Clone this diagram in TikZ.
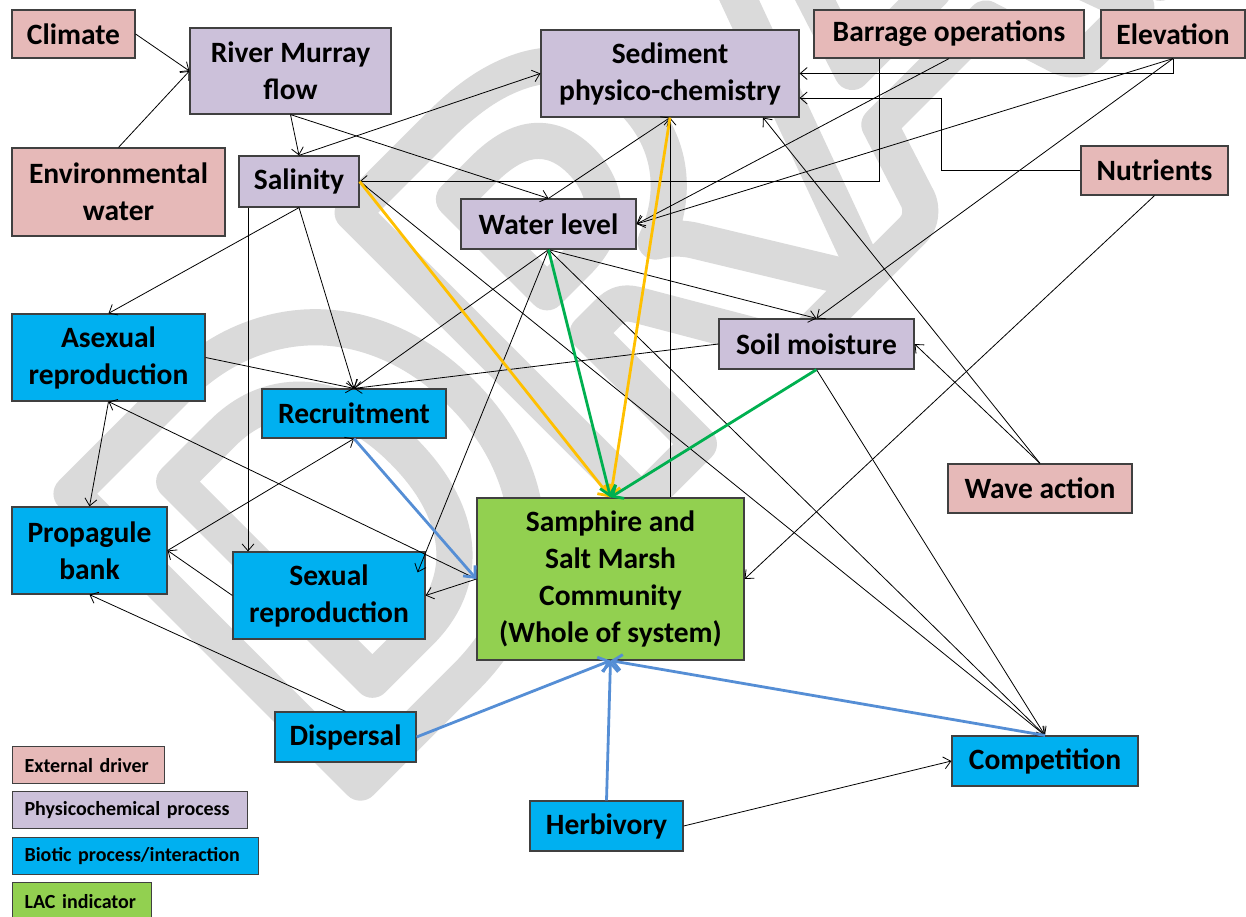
\documentclass[tikz,border=0pt]{standalone}
\usepackage{fontspec}
\setmainfont{Carlito}
\usetikzlibrary{arrows.meta,calc}
\definecolor{pinkc}{HTML}{E6B9B8}
\definecolor{lavc}{HTML}{CCC1DA}
\definecolor{bluec}{HTML}{00B0F0}
\definecolor{greenc}{HTML}{92D050}
\definecolor{yel}{HTML}{FFC000}
\definecolor{grn}{HTML}{00B050}
\definecolor{blu}{HTML}{558ED5}
\definecolor{bord}{HTML}{404040}
\definecolor{wm}{HTML}{DADADA}
\newcommand\bx[7]{\node[box, fill=#6, minimum width=#4pt-#2pt, minimum height=#5pt-#3pt] (#1) at ({(#2+#4)/2},{(#3+#5)/2}) {#7};}
\newcommand\lgbox[7]{\node[legbox, fill=#6, text width=#4pt-#2pt-24pt, minimum height=#5pt-#3pt, anchor=north west] (#1) at (#2,#3) {#7};}
\begin{document}
\begin{tikzpicture}[x=1pt,y=-1pt,
  box/.style={draw=bord, line width=1.2pt, inner sep=0pt, align=center,
    font=\fontsize{29.5}{37}\selectfont\bfseries},
  legbox/.style={draw=bord, line width=1.2pt, inner xsep=12pt, inner ysep=0pt, align=left,
    font=\fontsize{20}{24}\selectfont\bfseries},
  arr/.style={line width=0.8pt, -{Straight Barb[length=7pt,width=12pt,line width=0.8pt]}},
  carr/.style={line width=2.8pt, -{Straight Barb[length=9pt,width=16pt,line width=2.8pt]}},
  yarr/.style={carr, draw=yel},
  garr/.style={carr, draw=grn},
  barr/.style={carr, draw=blu}]
\useasboundingbox (0,0) rectangle (1246,917);
\fill[white] (0,0) rectangle (1246,917);
% watermark
\node[rotate=45, anchor=base west, text=wm, inner sep=0pt] (wmk) at (335,808)
  {\fontsize{630}{630}\selectfont\bfseries\special{pdf:literal direct 1 Tr 36 w 1 j 1 J}DRAFT\special{pdf:literal direct 0 Tr 1 w}};
% nodes
\bx{clim}{12}{10}{135}{58}{pinkc}{Climate}
\bx{rmf}{190}{28}{391}{114}{lavc}{River Murray\\flow}
\bx{env}{12}{148}{225}{236}{pinkc}{Environmental\\water}
\bx{sal}{239}{156}{359}{207}{lavc}{Salinity}
\bx{sed}{541}{30}{799}{117}{lavc}{Sediment\\physico-chemistry}
\bx{bar}{814}{10}{1084}{58}{pinkc}{Barrage operations}
\bx{elev}{1101}{10}{1245}{58}{pinkc}{Elevation}
\bx{wl}{461}{199}{636}{249}{lavc}{Water level}
\bx{nut}{1081}{146}{1228}{195}{pinkc}{Nutrients}
\bx{soil}{719}{319}{914}{369}{lavc}{Soil moisture}
\bx{asex}{12}{314}{205}{401}{bluec}{Asexual\\reproduction}
\bx{rec}{262}{389}{446}{438}{bluec}{Recruitment}
\bx{prop}{12}{507}{167}{594}{bluec}{Propagule\\bank}
\bx{sex}{233}{552}{425}{639}{bluec}{Sexual\\reproduction}
\bx{samp}{477}{498}{744}{660}{greenc}{Samphire and\\Salt Marsh\\Community\\(Whole of system)}
\bx{wave}{948}{464}{1132}{513}{pinkc}{Wave action}
\bx{disp}{275}{712}{416}{762}{bluec}{Dispersal}
\bx{herb}{530}{801}{683}{851}{bluec}{Herbivory}
\bx{comp}{952}{736}{1138}{786}{bluec}{Competition}
% legend
\lgbox{lg1}{12}{746}{164}{783}{pinkc}{External driver}
\lgbox{lg2}{12}{791}{247}{828}{lavc}{Physicochemical process}
\lgbox{lg3}{12}{837}{258}{874}{bluec}{Biotic process/interaction}
\lgbox{lg4}{12}{882}{151}{919}{greenc}{LAC indicator}
% black connectors
\draw[arr] (clim.east) -- (rmf.west);
\draw[arr] (env.north) -- (rmf.west);
\draw[arr] (rmf.south) -- (sal.north);
\draw[arr] (rmf.south) -- (wl.north);
\draw[arr] (sal.north) -- (sed.west);
\draw[arr] (wl.north) -- (sed.south);
\draw[arr] (sed.south |- samp.north) -- (sed.south);
\draw[arr] ([xshift=-70pt]bar.south) |- (sal.east);
\draw[arr] (bar.south) -- (wl.east);
\draw[arr] (elev.south) |- (sed.east);
\draw[arr] (elev.south) -- (wl.east);
\draw[arr] (elev.south) -- (soil.north);
\draw[arr] (nut.west) -- ++(-139,0) |- ([yshift=-24.5pt]sed.east);
\draw[arr] (nut.south) -- (samp.east);
\draw[arr] (wave.north) -- (soil.east);
\draw[arr] (wave.north) -- ([xshift=93pt]sed.south);
\draw[arr] (wl.south) -- (soil.north);
\draw[arr] (wl.south) -- (rec.north);
\draw[arr] (wl.south) -- ([xshift=-8pt,yshift=-21pt]sex.north east);
\draw[arr] (wl.south) -- (comp.north);
\draw[arr] (sal.east) -- (comp.north);
\draw[arr] (soil.south) -- (comp.north);
\draw[arr] (soil.west) -- (rec.north);
\draw[arr] (asex.east) -- (rec.north);
\draw[arr] (sal.south) -- (rec.north);
\draw[arr] (sal.south) -- (asex.north);
\draw[arr] ([xshift=-51pt]sal.south) -- ([xshift=-51pt]sal.south |- sex.north);
\draw[arr] (asex.south) -- (prop.north);
\draw[arr] (samp.west) -- (asex.south);
\draw[arr] (samp.west) -- (sex.east);
\draw[arr] (sex.west) -- (prop.east);
\draw[arr] (prop.east) -- (rec.south);
\draw[arr] (disp.north) -- (prop.south);
\draw[arr] (herb.east) -- (comp.west);
% coloured connectors
\draw[yarr] (sal.east) -- (samp.north);
\draw[yarr] (sed.south) -- (samp.north);
\draw[garr] (wl.south) -- (samp.north);
\draw[garr] (soil.south) -- (samp.north);
\draw[barr] (rec.south) -- (samp.west);
\draw[barr] (disp.east) -- (samp.south);
\draw[barr] (herb.north) -- (samp.south);
\draw[barr] (comp.north) -- (samp.south);
\end{tikzpicture}
\end{document}
